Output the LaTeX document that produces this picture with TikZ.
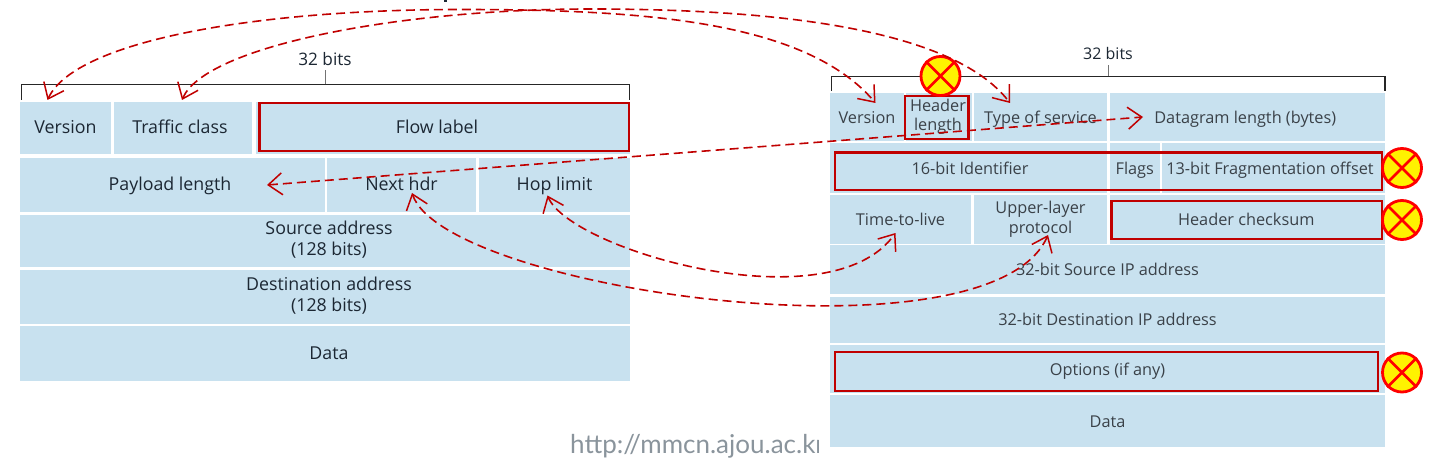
\documentclass[tikz,border=0pt]{standalone}
\usepackage{fontspec}
\setmainfont{Open Sans}
\newfontfamily\urlfont{Lato}
\usetikzlibrary{arrows.meta}
\definecolor{cellblue}{HTML}{C8E1EF}
\definecolor{darkred}{HTML}{C00000}
\definecolor{ltext}{HTML}{1C2733}
\definecolor{rtext}{HTML}{3A4148}
\definecolor{urlgrey}{HTML}{8A949C}
\newcommand{\lfont}{\fontsize{17.8}{21.5}\selectfont}
\newcommand{\rfont}{\fontsize{16.3}{19.5}\selectfont}
\newcommand{\sth}{\rule[-6pt]{0pt}{24pt}}
\newcommand{\stt}{\rule[-6pt]{0pt}{20pt}}
\newcommand{\stb}{\rule[-6pt]{0pt}{15pt}}
\newcommand{\boxat}[7][]{%
  \pgfmathsetmacro{\bw}{#5-#3}\pgfmathsetmacro{\bh}{#6-#4}%
  \pgfmathsetmacro{\bx}{(#3+#5)/2}\pgfmathsetmacro{\by}{(#4+#6)/2}%
  \node[#1,minimum width=\bw pt,minimum height=\bh pt] (#2) at (\bx,\by) {#7};}
\newcommand{\nogo}[3]{%
  \node[nogocircle] (#1) at (#2,#3) {};
  \draw[nogoline] (#1.45) -- (#1.225) (#1.135) -- (#1.315);}
\tikzset{
  cell/.style={fill=cellblue,inner sep=0pt,outer sep=0pt,align=center},
  lcell/.style={cell,text=ltext,font=\lfont},
  rcell/.style={cell,text=rtext,font=\rfont},
  redbox/.style={draw=darkred,line width=2.2pt,inner sep=0pt,outer sep=0pt},
  nogocircle/.style={circle,draw=red,fill=yellow,line width=2.8pt,minimum size=39pt,inner sep=0pt},
  nogoline/.style={draw=red,line width=2.6pt},
  link/.style={draw=darkred,line width=1.6pt,dash pattern=on 9pt off 5pt,{Straight Barb[length=14pt,width=22pt,line width=1.5pt]}-{Straight Barb[length=14pt,width=22pt,line width=1.5pt]}},
  bracket/.style={draw=black!85,line width=1.2pt},
  tick/.style={draw=black!55,line width=1pt},
  bits/.style={inner sep=0pt,text=ltext},
}
\begin{document}
\begin{tikzpicture}[x=1pt,y=-1pt]
\useasboundingbox (0,0) rectangle (1429,465);
% left table
\boxat[lcell]{v6ver}{20}{102}{111}{154}{Version\sth}
\boxat[lcell]{v6tc}{114}{102}{252}{154}{\hspace*{-6pt}Traffic class\sth}
\boxat[lcell]{v6flow}{256}{102}{630}{154}{\hspace*{-12pt}Flow label\sth}
\boxat[lcell]{v6pay}{20}{158}{325}{212}{\hspace*{-5pt}Payload length\sth}
\boxat[lcell]{v6next}{327}{158}{476}{212}{Next hdr\sth}
\boxat[lcell]{v6hop}{479}{158}{630}{212}{Hop limit\sth}
\boxat[lcell]{v6src}{20}{215}{630}{267}{\hspace*{8pt}Source address\stt\\\hspace*{8pt}(128 bits)\stb}
\boxat[lcell]{v6dst}{20}{270}{630}{324}{\hspace*{8pt}Destination address\stt\\\hspace*{8pt}(128 bits)\stb}
\boxat[lcell]{v6data}{20}{326}{630}{381}{\hspace*{8pt}Data\sth}
% right table
\boxat[rcell]{v4ver}{830}{93.5}{904}{141}{Version\sth}
\boxat[rcell]{v4hl}{906}{93.5}{972}{141}{\hspace*{-2pt}Header\stt\\\hspace*{-2pt}length\stb}
\boxat[rcell]{v4tos}{974}{93.5}{1107}{141}{Type of service\sth}
\boxat[rcell]{v4len}{1109.5}{93.5}{1385}{141}{\hspace*{-4pt}Datagram length (bytes)\sth}
\boxat[rcell]{v4id}{830}{143.5}{1107}{193}{\hspace*{3pt}16-bit Identifier\sth}
\boxat[rcell]{v4flags}{1109.5}{143.5}{1160}{193}{Flags\sth}
\boxat[rcell]{v4frag}{1162}{143.5}{1385}{193}{\hspace*{-7pt}13-bit Fragmentation offset\sth}
\boxat[rcell]{v4ttl}{830}{195.5}{971}{243.5}{Time-to-live\sth}
\boxat[rcell]{v4proto}{974}{195.5}{1107}{243.5}{Upper-layer\stt\\protocol\stb}
\boxat[rcell]{v4chk}{1109.5}{195.5}{1385}{243.5}{\hspace*{-2pt}Header checksum\sth}
\boxat[rcell]{v4src}{830}{245}{1385}{294}{32-bit Source IP address\sth}
\boxat[rcell]{v4dst}{830}{296.5}{1385}{343}{32-bit Destination IP address\sth}
\boxat[rcell]{v4opt}{830}{345}{1385}{393}{Options (if any)\sth}
\boxat[rcell]{v4data}{830}{395}{1385}{447}{Data\sth}
% red outlines
\boxat[redbox]{rFlow}{259.5}{103}{629}{151}{}
\boxat[redbox]{rHl}{905}{96}{968.5}{139}{}
\boxat[redbox]{rId}{835}{152.5}{1382}{190}{}
\boxat[redbox]{rChk}{1111.5}{201}{1382}{239}{}
\boxat[redbox]{rOpt}{835}{352}{1378}{391}{}
% brackets
\draw[bracket] (21.5,100) |- (629.5,84.5) -- (629.5,100);
\node[bits,font=\fontsize{17.2}{20}\selectfont] (bitsL) at (325,59) {32 bits};
\coordinate (tickL) at (325,84.5);
\draw[tick] (tickL) -- (325,70);
\draw[bracket] (831.5,91) |- (1385,76.5) -- (1385,91);
\node[bits,font=\fontsize{16}{20}\selectfont] (bitsR) at (1108,54) {32 bits};
\coordinate (tickR) at (1108.5,76.5);
\draw[tick] (tickR) -- (1108.5,65);
% circles
\nogo{xHl}{940.5}{76}
\nogo{xId}{1402}{168}
\nogo{xChk}{1402}{220}
\nogo{xOpt}{1402}{372.5}
% link end points
\coordinate (tipVerL) at (47.5,100);
\coordinate (tipVerR) at (875.5,103);
\coordinate (tipTcL) at (182,100);
\coordinate (tipTosR) at (1010,103);
\coordinate (topA) at (460,9.5);
\coordinate (topB) at (590,9);
\coordinate (tipPay) at (267,185);
\coordinate (tipLen) at (1143,117);
\coordinate (tipHop) at (547.5,195.5);
\coordinate (tipTtl) at (895.5,233);
\coordinate (tipNext) at (412,193);
\coordinate (tipProto) at (1048,235);
% links
\draw[link] (tipVerL) .. controls (75,40) and (260,9.5) .. (topA) .. controls (640,9.5) and (805,20) .. (tipVerR);
\draw[link] (tipTcL) .. controls (205,46) and (400,9) .. (topB) .. controls (760,9) and (950,25) .. (tipTosR);
\draw[link] (tipPay) -- (tipLen);
\draw[link] (tipHop) .. controls (570,250) and (830,325) .. (tipTtl);
\draw[link] (tipNext) .. controls (445,290) and (990,367) .. (tipProto);
% clipped footer text
\begin{scope}
\clip (560,425) rectangle (818,465);
\node[anchor=base west,inner sep=0pt,text=urlgrey,font=\urlfont\fontsize{26}{30}\selectfont] (url) at (570,453) {http://mmcn.ajou.ac.kr};
\end{scope}
\fill[ltext] (443.5,0) rectangle (446.5,2);
\end{tikzpicture}
\end{document}
